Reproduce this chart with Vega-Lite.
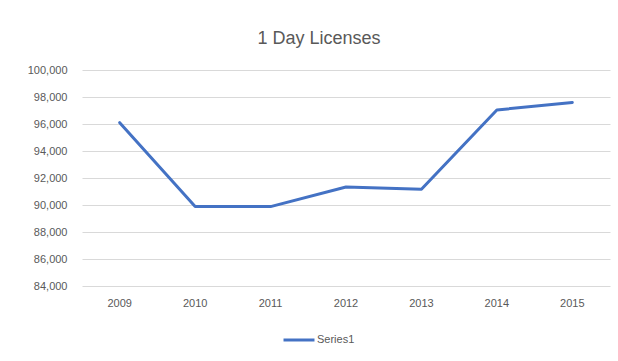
{
  "$schema": "https://vega.github.io/schema/vega-lite/v6.json",
  "width": 528,
  "height": 216,
  "autosize": {"type": "none"},
  "padding": {"left": 82, "top": 70, "right": 8, "bottom": 75},
  "background": "white",
  "title": {
    "text": "1 Day Licenses",
    "fontSize": 18,
    "fontWeight": "normal",
    "font": "Liberation Sans",
    "color": "#595959",
    "anchor": "middle",
    "dx": -27,
    "offset": 16
  },
  "data": {
    "values": [
      {"year": "2009", "value": 96100, "series": "Series1"},
      {"year": "2010", "value": 89880, "series": "Series1"},
      {"year": "2011", "value": 89880, "series": "Series1"},
      {"year": "2012", "value": 91330, "series": "Series1"},
      {"year": "2013", "value": 91160, "series": "Series1"},
      {"year": "2014", "value": 97040, "series": "Series1"},
      {"year": "2015", "value": 97600, "series": "Series1"}
    ]
  },
  "mark": {"type": "line", "strokeWidth": 3, "strokeCap": "round", "strokeJoin": "round"},
  "encoding": {
    "x": {
      "field": "year",
      "type": "ordinal",
      "scale": {"type": "band", "paddingInner": 0, "paddingOuter": 0},
      "axis": {
        "title": null,
        "labelAngle": 0,
        "domain": false,
        "ticks": false,
        "grid": false,
        "labelPadding": 11,
        "labelFont": "Liberation Sans",
        "labelFontSize": 11,
        "labelColor": "#595959"
      }
    },
    "y": {
      "field": "value",
      "type": "quantitative",
      "scale": {"domain": [84000, 100000], "nice": false, "zero": false},
      "axis": {
        "title": null,
        "values": [84000, 86000, 88000, 90000, 92000, 94000, 96000, 98000, 100000],
        "format": ",.0f",
        "domain": false,
        "ticks": false,
        "grid": true,
        "gridColor": "#d9d9d9",
        "gridWidth": 1,
        "labelPadding": 15,
        "labelFont": "Liberation Sans",
        "labelFontSize": 11,
        "labelColor": "#595959"
      }
    },
    "color": {
      "field": "series",
      "type": "nominal",
      "scale": {"range": ["#4472C4"]},
      "legend": {
        "title": null,
        "orient": "none",
        "legendX": 200,
        "legendY": 253,
        "symbolType": "stroke",
        "symbolSize": 960,
        "symbolStrokeWidth": 3,
        "labelFont": "Liberation Sans",
        "labelFontSize": 11,
        "labelColor": "#595959",
        "labelOffset": 1
      }
    }
  },
  "config": {
    "view": {"stroke": null}
  }
}
